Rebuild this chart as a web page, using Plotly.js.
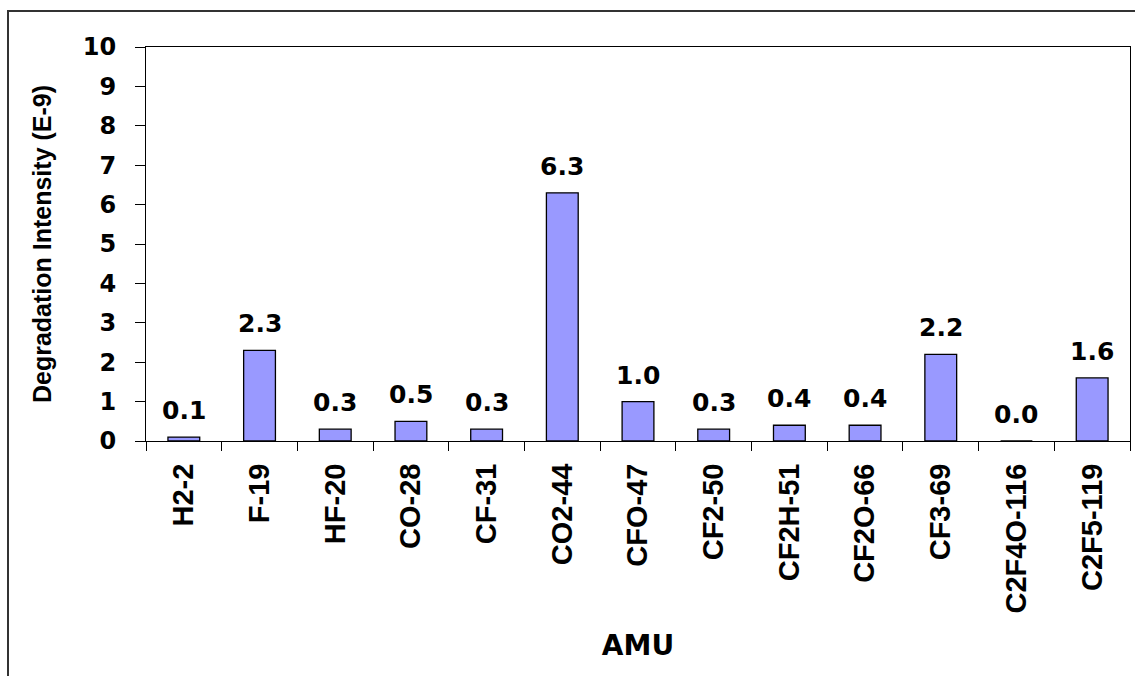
<!DOCTYPE html>
<html>
<head>
<meta charset="utf-8">
<script src="https://cdn.plot.ly/plotly-3.0.1.min.js"></script>
<style>
  html, body { margin: 0; padding: 0; background: #fff; }
  #chart { width: 1135px; height: 676px; }
</style>
</head>
<body>
<div id="chart"></div>
<script>
// Mass fragments (species-AMU) and measured degradation intensity, in units of 1E-9
const fragments = ['H2-2', 'F-19', 'HF-20', 'CO-28', 'CF-31', 'CO2-44', 'CFO-47',
                   'CF2-50', 'CF2H-51', 'CF2O-66', 'CF3-69', 'C2F4O-116', 'C2F5-119'];
const intensity = [0.1, 2.3, 0.3, 0.5, 0.3, 6.3, 1.0, 0.3, 0.4, 0.4, 2.2, 0.0, 1.6];
const yTicks = [0, 1, 2, 3, 4, 5, 6, 7, 8, 9, 10];

const W = 1135, H = 676;
const M = { l: 146, r: 5, t: 47, b: 235 };
const plotW = W - M.l - M.r, plotH = H - M.t - M.b;

const wideFont = 'DejaVu Sans, Verdana, sans-serif';
const arialFont = 'Liberation Sans, Arial, sans-serif';

const bars = {
  type: 'bar',
  x: fragments,
  y: intensity,
  marker: { color: '#9999FF', line: { color: '#000000', width: 1.3 } },
  hoverinfo: 'x+y'
};

// value labels above each bar
const labels = fragments.map((f, i) => ({
  x: f, y: intensity[i], xref: 'x', yref: 'y',
  text: intensity[i].toFixed(1),
  showarrow: false, yanchor: 'bottom', yshift: 10,
  font: { family: wideFont, size: 25, color: '#000', weight: 'bold' }
}));

// outer chart frame (left and top edges visible)
const px2x = p => (p - M.l) / plotW;
const px2y = p => (H - M.b - p) / plotH;

const layout = {
  width: W, height: H,
  margin: M,
  paper_bgcolor: '#ffffff',
  plot_bgcolor: '#ffffff',
  showlegend: false,
  bargap: 0.58,
  xaxis: {
    type: 'category',
    tickson: 'boundaries',
    ticks: 'outside', ticklen: 9, tickcolor: '#000', tickwidth: 1,
    showline: true, linecolor: '#000', linewidth: 1, mirror: true,
    showgrid: false, zeroline: false,
    tickangle: -90,
    ticklabelstandoff: 10,
    tickfont: { family: arialFont, size: 29, color: '#000', weight: 'bold' },
    title: { text: 'AMU', standoff: 22,
             font: { family: wideFont, size: 28, color: '#000', weight: 'bold' } },
    automargin: false, fixedrange: true
  },
  yaxis: {
    range: [0, 10],
    tickmode: 'array', tickvals: yTicks, ticktext: yTicks.map(String),
    ticks: 'outside', ticklen: 10, tickcolor: '#000', tickwidth: 1,
    showline: true, linecolor: '#000', linewidth: 1, mirror: true,
    showgrid: false, zeroline: false,
    ticklabelstandoff: 14,
    tickfont: { family: wideFont, size: 24, color: '#000', weight: 'bold' },
    title: { text: '<b>Degradation Intensity (E-9)</b>', standoff: 24,
             font: { family: arialFont, size: 25, color: '#000', weight: 'bold' } },
    automargin: false, fixedrange: true
  },
  annotations: labels,
  shapes: [{
    type: 'rect', xref: 'paper', yref: 'paper',
    x0: px2x(8), x1: px2x(W + 20), y0: px2y(H + 20), y1: px2y(11),
    line: { color: '#333333', width: 2 }, fillcolor: 'rgba(0,0,0,0)'
  }]
};

Plotly.newPlot('chart', [bars], layout, { displayModeBar: false, staticPlot: true });
</script>
</body>
</html>
